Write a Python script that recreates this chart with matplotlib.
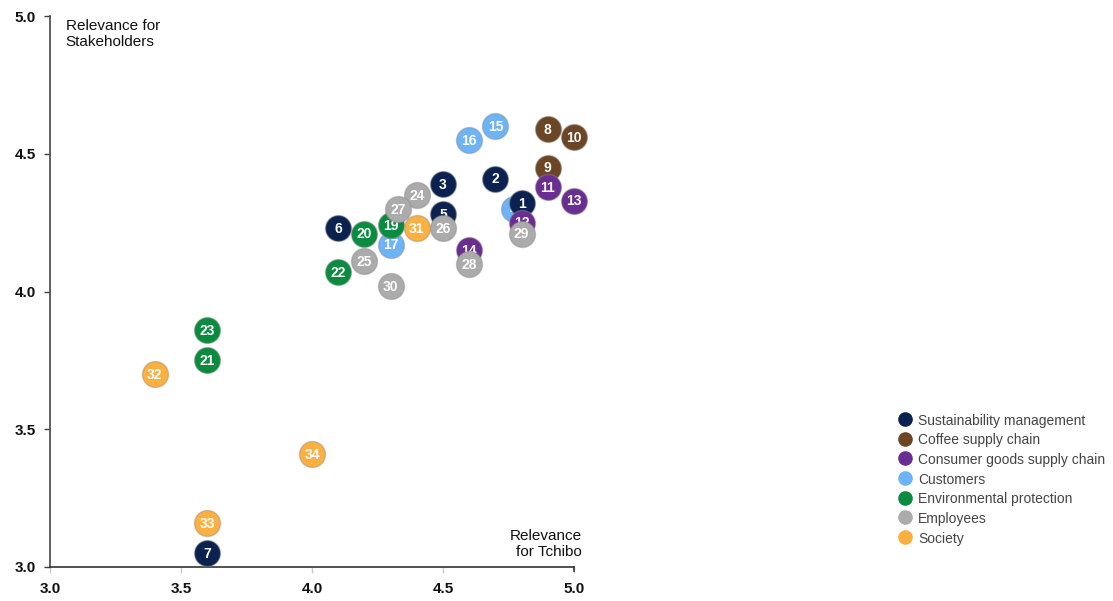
import matplotlib
matplotlib.use("Agg")
import matplotlib.pyplot as plt
from matplotlib.lines import Line2D

plt.rcParams['font.family'] = ['Liberation Sans', 'DejaVu Sans']

# Topic groups (legend order) and their colours
groups = ["Sustainability management", "Coffee supply chain",
          "Consumer goods supply chain", "Customers",
          "Environmental protection", "Employees", "Society"]
group_colors = ["#0b2250", "#6b4524", "#6a2d91", "#6db3f7",
                "#0a8c40", "#ababab", "#fbb03f"]

# Topics: number, group index, relevance for Tchibo (x), relevance for stakeholders (y)
topic_ids = [1, 2, 3, 4, 5, 6, 7,
             8, 9, 10,
             11, 12, 13, 14,
             15, 16, 17,
             19, 20, 21, 22, 23,
             24, 25, 26, 27, 28, 29, 30,
             31, 32, 33, 34]
topic_group = [0, 0, 0, 3, 0, 0, 0,
               1, 1, 1,
               2, 2, 2, 2,
               3, 3, 3,
               4, 4, 4, 4, 4,
               5, 5, 5, 5, 5, 5, 5,
               6, 6, 6, 6]
tchibo = [4.8, 4.7, 4.5, 4.77, 4.5, 4.1, 3.6,
          4.9, 4.9, 5.0,
          4.9, 4.8, 5.0, 4.6,
          4.7, 4.6, 4.3,
          4.3, 4.2, 3.6, 4.1, 3.6,
          4.4, 4.2, 4.5, 4.33, 4.6, 4.8, 4.3,
          4.4, 3.4, 3.6, 4.0]
stakeholders = [4.32, 4.41, 4.39, 4.30, 4.28, 4.23, 3.05,
                4.59, 4.45, 4.56,
                4.38, 4.25, 4.33, 4.15,
                4.60, 4.55, 4.17,
                4.24, 4.21, 3.75, 4.07, 3.86,
                4.35, 4.11, 4.23, 4.30, 4.10, 4.21, 4.02,
                4.23, 3.70, 3.16, 3.41]

# Stacking order of the groups (lower first)
draw_order = [3, 0, 1, 2, 4, 5, 6]

W, H = 1113, 601
fig = plt.figure(figsize=(W / 100, H / 100), dpi=100)
ax = fig.add_axes([50 / W, 34 / H, 524 / W, 551 / H])

for rank, g in enumerate(draw_order):
    for i, tid in enumerate(topic_ids):
        if topic_group[i] != g:
            continue
        z = 3 + rank * 100 + i
        ax.scatter(tchibo[i], stakeholders[i], s=350, color=group_colors[g],
                   edgecolors=(0.55, 0.55, 0.55, 0.45), linewidths=1.0,
                   zorder=z, clip_on=False)
        ax.text(tchibo[i], stakeholders[i] - 0.003, str(tid), color="white",
                fontsize=10, fontweight="bold", ha="center", va="center",
                zorder=z + 0.5)

ax.set_xlim(3.0, 5.0)
ax.set_ylim(3.0, 5.0)
ax.set_xticks([3.0, 3.5, 4.0, 4.5, 5.0])
ax.set_yticks([3.0, 3.5, 4.0, 4.5, 5.0])
ax.xaxis.set_major_formatter(matplotlib.ticker.FormatStrFormatter('%.1f'))
ax.yaxis.set_major_formatter(matplotlib.ticker.FormatStrFormatter('%.1f'))
for lab in ax.get_xticklabels() + ax.get_yticklabels():
    lab.set_fontweight("bold")
    lab.set_fontsize(11)
    lab.set_color("#111111")
ax.tick_params(axis="x", direction="out", length=4, width=1, color="#c8c8c8", pad=7)
ax.tick_params(axis="y", direction="out", length=4, width=1, color="#444444", pad=6)

for side in ("top", "right"):
    ax.spines[side].set_visible(False)
ax.spines["left"].set_color("#444444")
ax.spines["bottom"].set_color("#333333")
ax.spines["left"].set_linewidth(1.2)
ax.spines["bottom"].set_linewidth(1.2)

# Dark end tick at the right end of the x axis
ax.plot([5.0, 5.0], [3.0, 2.985], color="#333333", lw=1.2, clip_on=False)

ax.text(0.03, 0.995, "Relevance for\nStakeholders", transform=ax.transAxes,
        ha="left", va="top", fontsize=11, color="#111111", linespacing=1.2)
ax.text(1.015, 0.015, "Relevance\nfor Tchibo", transform=ax.transAxes,
        ha="right", va="bottom", fontsize=11, color="#111111", linespacing=1.2)

# Legend
for k, (name, col) in enumerate(zip(groups, group_colors)):
    ypx = 419 + k * 19.67
    fy = 1 - ypx / H
    fig.add_artist(Line2D([905 / W], [fy], marker="o", markersize=9.5,
                          color=col, linestyle="none",
                          transform=fig.transFigure))
    fig.text(918 / W, fy, name, ha="left", va="center_baseline", fontsize=10,
             color="#444444")

fig.savefig("out.png", dpi=100)
